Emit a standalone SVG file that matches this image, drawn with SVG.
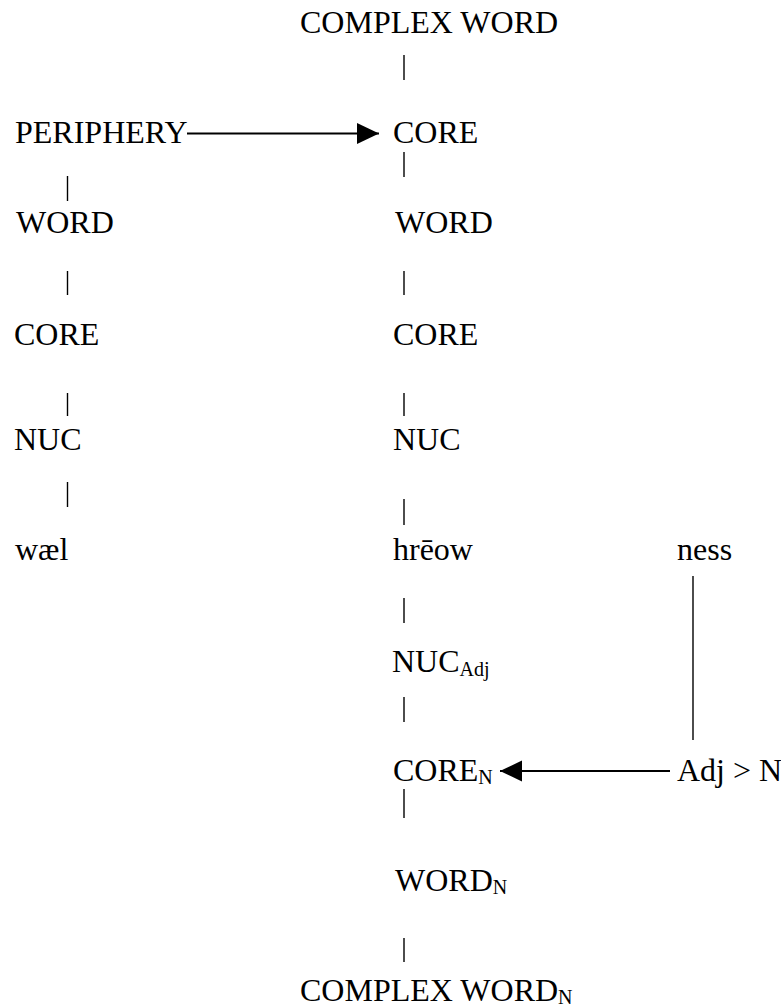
<svg xmlns="http://www.w3.org/2000/svg" width="781" height="1008" viewBox="0 0 781 1008">
<style>
text{font-family:"Liberation Serif","Times New Roman",serif;font-size:32px;fill:#000}
.sub{font-size:20px}
.bar{stroke:#000;stroke-width:1.4}
.arr{stroke:#000;stroke-width:2;fill:none}
</style>
<defs>
<marker id="ah" markerUnits="userSpaceOnUse" markerWidth="22" markerHeight="22" viewBox="0 0 21 20" refX="21" refY="10" orient="auto">
<path d="M0,0 L21,10 L0,20 Z" fill="#000"/>
</marker>
</defs>
<rect width="781" height="1008" fill="#fff"/>
<g id="n-complexword"><text x="300" y="33">COMPLEX WORD</text></g>
<g id="n-periphery"><text x="15" y="143">PERIPHERY</text></g>
<g id="n-core1"><text x="393" y="143">CORE</text></g>
<g id="n-word-l"><text x="16" y="233">WORD</text></g>
<g id="n-word-r"><text x="395" y="233">WORD</text></g>
<g id="n-core-l"><text x="14" y="345">CORE</text></g>
<g id="n-core-r"><text x="393" y="345">CORE</text></g>
<g id="n-nuc-l"><text x="14" y="450">NUC</text></g>
<g id="n-nuc-r"><text x="393" y="450">NUC</text></g>
<g id="n-wael"><text x="15" y="560">wæl</text></g>
<g id="n-hreow"><text x="393" y="560">hrēow</text></g>
<g id="n-ness"><text x="677" y="560">ness</text></g>
<g id="n-nucadj"><text x="392" y="672">NUC<tspan class="sub" dy="4">Adj</tspan></text></g>
<g id="n-coren"><text x="393" y="781">CORE<tspan class="sub" dy="3">N</tspan></text></g>
<g id="n-adjn"><text x="677" y="781">Adj &gt; N</text></g>
<g id="n-wordn"><text x="395" y="891">WORD<tspan class="sub" dy="3">N</tspan></text></g>
<g id="n-complexwordn"><text x="300" y="1001">COMPLEX WORD<tspan class="sub" dy="3">N</tspan></text></g>
<g id="connectors">
<line class="bar" x1="404" y1="55" x2="404" y2="80"/>
<line class="bar" x1="404" y1="152" x2="404" y2="177"/>
<line class="bar" x1="404" y1="271" x2="404" y2="295"/>
<line class="bar" x1="404" y1="393" x2="404" y2="416"/>
<line class="bar" x1="404" y1="499" x2="404" y2="525"/>
<line class="bar" x1="404" y1="598" x2="404" y2="623"/>
<line class="bar" x1="404" y1="697" x2="404" y2="722"/>
<line class="bar" x1="404" y1="789" x2="404" y2="818"/>
<line class="bar" x1="404" y1="938" x2="404" y2="962"/>
<line class="bar" x1="67.5" y1="176" x2="67.5" y2="201"/>
<line class="bar" x1="67.5" y1="271" x2="67.5" y2="295"/>
<line class="bar" x1="67.5" y1="393" x2="67.5" y2="416"/>
<line class="bar" x1="67.5" y1="482" x2="67.5" y2="507"/>
<line class="bar" x1="693" y1="576" x2="693" y2="740"/>
<line class="arr" x1="187" y1="133.5" x2="379" y2="133.5" marker-end="url(#ah)"/>
<line class="arr" x1="670" y1="771" x2="500" y2="771" marker-end="url(#ah)"/>
</g>
</svg>
